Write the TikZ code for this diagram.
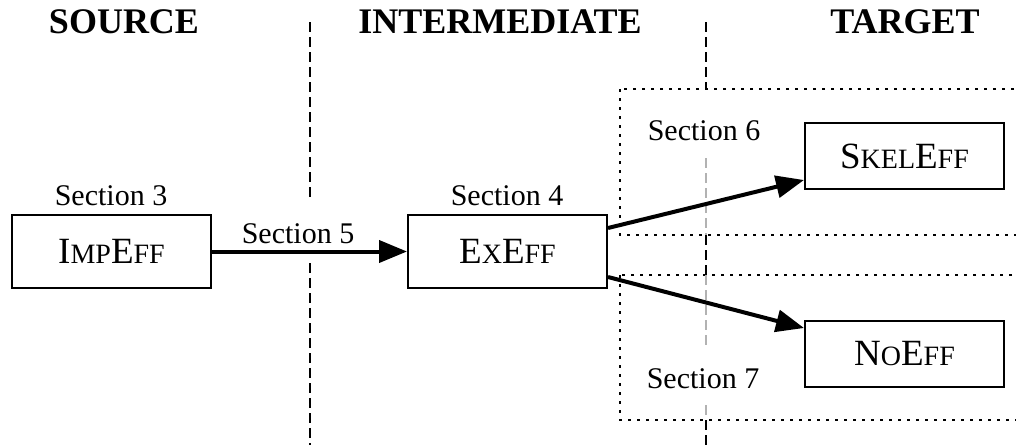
\documentclass[tikz,border=0pt]{standalone}
\usepackage{fontspec}
\setmainfont{Liberation Serif}
\usetikzlibrary{arrows.meta,calc}
\newcommand{\smcap}[1]{{\fontsize{28pt}{28pt}\selectfont #1}}
\begin{document}
\begin{tikzpicture}[x=1pt,y=-1pt,
  effbox/.style={draw,line width=2pt,minimum width=199pt,inner sep=0pt,
    font=\fontsize{37pt}{37pt}\selectfont},
  title/.style={anchor=base,inner sep=0pt,font=\fontsize{36pt}{36pt}\selectfont\bfseries},
  seclabel/.style={anchor=base,inner sep=0pt,font=\fontsize{30pt}{30pt}\selectfont},
  arr/.style={line width=4pt,-{Triangle[length=28pt,width=22pt]}},
  divider/.style={line width=2pt,dash pattern=on 10pt off 5pt},
  faint/.style={divider,draw=black!30},
  region/.style={line width=2pt,dash pattern=on 3pt off 6pt}]
\clip (0,0) rectangle (1016,445);
\fill[white] (0,0) rectangle (1016,445);
% target regions
\draw[region] (620,89) rectangle (1040,235);
\draw[region] (620,275) rectangle (1040,420);
% dividers
\draw[divider] (310,22) -- (310,197);
\draw[divider] (310,263) -- (310,445);
\draw[divider] (706,22) -- (706,89);
\draw[faint] (706,158) -- (706,235);
\draw[divider] (706,235) -- (706,275);
\draw[faint] (706,275) -- (706,345);
\draw[faint] (706,405) -- (706,420);
\draw[divider] (706,420) -- (706,445);
% titles
\node[title] (tsrc) at (124,33) {SOURCE};
\node[title] (tint) at (500,33) {INTERMEDIATE};
\node[title] (ttgt) at (905,33) {TARGET};
% boxes
\node[effbox,minimum height=73pt] (imp) at (111.5,251.5) {I\smcap{MP}E\smcap{FF}};
\node[effbox,minimum height=73pt] (ex) at (507.5,251.5) {E\smcap{X}E\smcap{FF}};
\node[effbox,minimum height=66pt] (skel) at (904.5,156) {S\smcap{KEL}E\smcap{FF}};
\node[effbox,minimum height=66pt] (no) at (904.5,354) {N\smcap{O}E\smcap{FF}};
% labels
\node[seclabel] (s3) at (111,205) {Section 3};
\node[seclabel] (s4) at (507,205) {Section 4};
\node[seclabel] (s5) at (298,243) {Section 5};
\node[seclabel] (s6) at (704,140) {Section 6};
\node[seclabel] (s7) at (703,388) {Section 7};
% arrows
\draw[arr] (imp.east) -- (ex.west);
\draw[arr] ($(ex.east)+(0,-23.5)$) -- ($(skel.west)+(0,24)$);
\draw[arr] ($(ex.east)+(0,25.5)$) -- ($(no.west)+(0,-26)$);
\end{tikzpicture}
\end{document}
